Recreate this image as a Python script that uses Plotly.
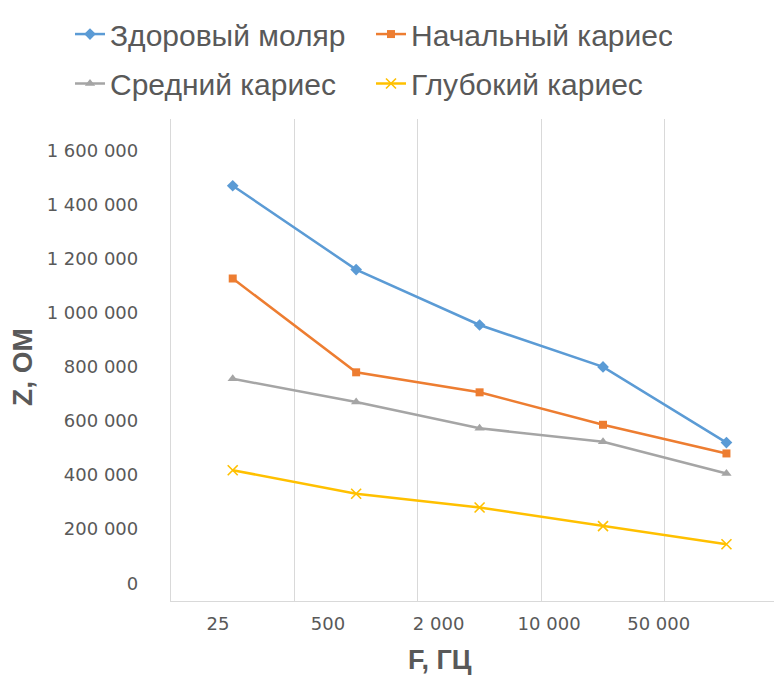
import plotly.graph_objects as go

categories = ["25", "500", "2 000", "10 000", "50 000"]
healthy = [1470000, 1160000, 955000, 800000, 520000]
initial = [1127000, 780000, 706000, 586000, 480000]
medium = [756000, 670000, 573000, 523000, 406000]
deep = [418000, 331000, 280000, 211000, 144000]
y_ticks = [0, 200000, 400000, 600000, 800000, 1000000, 1200000, 1400000, 1600000]

names = ["Здоровый моляр", "Начальный кариес", "Средний кариес", "Глубокий кариес"]
series = [healthy, initial, medium, deep]
colors = ["#5B9BD5", "#ED7D31", "#A5A5A5", "#FFC000"]
symbols = ["diamond", "square", "triangle-up", "x-thin"]
msizes = [9, 8, 9, 10]
legend_ids = ["legend", "legend", "legend2", "legend2"]

# page has an 8px body margin: figure is drawn 8px in from the page corner
OFF = 8
W, H = 782 - OFF, 675 - OFF
L, T, B = 171 - OFF, 113 - OFF, 675 - 601
pw, ph = W - L, H - T - B

xpos = list(range(len(categories)))
label_pos = [-0.119, 0.772, 1.668, 2.563, 3.451]

fig = go.Figure()
for n, s, c, sym, ms, lg in zip(names, series, colors, symbols, msizes, legend_ids):
    fig.add_trace(go.Scatter(
        x=xpos, y=s, name=n, mode="lines+markers", legend=lg,
        line=dict(color=c, width=2.5),
        marker=dict(symbol=sym, size=ms, color=c,
                    line=dict(color=c, width=1.6 if sym == "x-thin" else 0)),
    ))

LBL = "#595959"


def px_x(x):
    return (x - OFF - L) / pw


def px_y(y):
    return 1 - (y - OFF - T) / ph


leg_common = dict(
    orientation="h", xanchor="left", yanchor="middle",
    font=dict(family="Liberation Sans", size=30, color=LBL),
    entrywidth=256, entrywidthmode="pixels", itemwidth=30,
    bgcolor="rgba(0,0,0,0)",
)

fig.update_layout(
    width=W, height=H,
    margin=dict(l=L, r=0, t=T, b=B),
    paper_bgcolor="white", plot_bgcolor="white",
    separators=". ",
    font=dict(family="DejaVu Sans", color=LBL),
    showlegend=True,
    legend=dict(x=px_x(70), y=px_y(27), **leg_common),
    legend2=dict(x=px_x(70), y=px_y(77), **leg_common),
    xaxis=dict(
        range=[-0.5, 4.45], tickmode="array", tickvals=label_pos, ticktext=categories,
        showgrid=False, zeroline=False, showline=True, linecolor="#d9d9d9", linewidth=1.3,
        ticks="", tickfont=dict(family="DejaVu Sans", size=18, color=LBL),
        ticklabelstandoff=6,
        minor=dict(tickmode="array", tickvals=[0.5, 1.5, 2.5, 3.5], showgrid=True,
                   gridcolor="#d9d9d9", gridwidth=1.3, ticks=""),
    ),
    yaxis=dict(
        range=[-65750, 1716900], tickmode="array", tickvals=y_ticks, tickformat=",d",
        showgrid=False, zeroline=False, showline=True, linecolor="#d9d9d9", linewidth=1.3,
        ticks="", tickfont=dict(family="DejaVu Sans", size=18, color=LBL),
        ticklabelstandoff=28,
    ),
    annotations=[
        dict(text="<b>Z, OM</b>", x=px_x(23), y=px_y(364), xref="paper", yref="paper",
             showarrow=False, textangle=-90, xanchor="center", yanchor="middle",
             font=dict(family="Liberation Sans", size=28, color=LBL)),
        dict(text="<b>F, ГЦ</b>", x=px_x(440), y=px_y(661), xref="paper", yref="paper",
             showarrow=False, xanchor="center", yanchor="middle",
             font=dict(family="Liberation Sans", size=27, color=LBL)),
    ],
)

fig.write_html("out.html")
